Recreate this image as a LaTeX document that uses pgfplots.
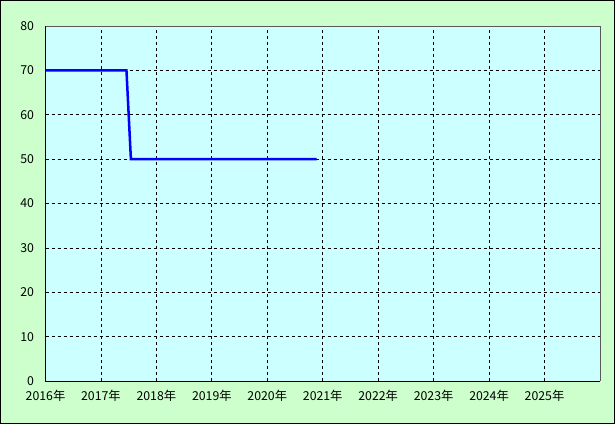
\documentclass[border=0pt]{standalone}
\usepackage{pgfplots}
\pgfplotsset{compat=1.18}
\usepackage{fontspec}
\setmainfont{Noto Sans CJK JP}
\definecolor{outerbg}{HTML}{CCFFCC}
\definecolor{plotbg}{HTML}{CCFFFF}
\begin{document}
\begin{tikzpicture}[x=1pt,y=1pt]
\fill[outerbg] (0,0) rectangle (615,424);
\draw[black,line width=1pt] (0.5,0.5) rectangle (614.5,423.5);
\begin{axis}[
  at={(45.5pt,43pt)}, anchor=south west,
  width=554.5pt, height=355pt, scale only axis,
  xmin=2016, xmax=2026, ymin=0, ymax=80,
  xtick={2016,...,2025},
  xticklabels={2016年,2017年,2018年,2019年,2020年,2021年,2022年,2023年,2024年,2025年},
  ytick={0,10,...,80},
  axis background/.style={fill=plotbg},
  axis line style={draw=none},
  major tick length=0pt,
  grid=major,
  major grid style={black, dash pattern=on 3pt off 3pt, line width=0.7pt},
  tick label style={font=\fontsize{12.3}{14}\selectfont},
  /pgf/number format/assume math mode=true,
  yticklabel style={xshift=-8pt},
  xticklabel style={yshift=-6pt},
  clip=false,
]
\addplot[blue, line width=2.5pt, line join=miter] coordinates {
  (2016,70) (2017.46,70) (2017.54,50) (2020.89,50)
};
\draw[black, line width=1pt] (rel axis cs:0,1) -- (rel axis cs:0,0) -- (rel axis cs:1,0);
\draw[gray!70!black, line width=1pt] (rel axis cs:0,1) -- (rel axis cs:1,1) -- (rel axis cs:1,0);
\end{axis}
\end{tikzpicture}
\end{document}
